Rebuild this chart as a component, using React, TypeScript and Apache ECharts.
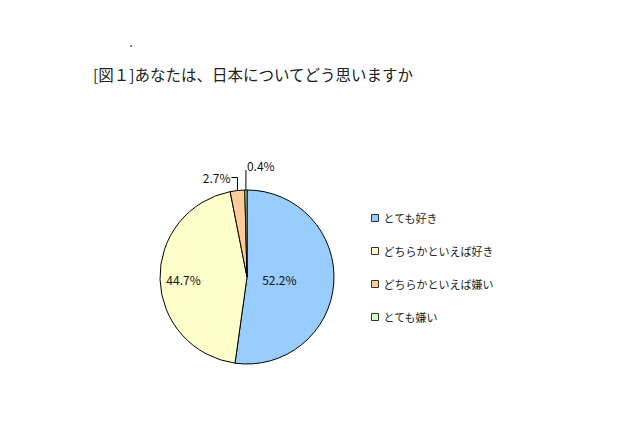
import * as echarts from 'echarts';
import React, { useEffect, useRef } from 'react';

const titleText = '[図１]あなたは、日本についてどう思いますか';
const categories = ['とても好き', 'どちらかといえば好き', 'どちらかといえば嫌い', 'とても嫌い'];
const shares = [52.2, 44.7, 2.7, 0.4];
const sliceColors = ['#99CCFF', '#FFFFCC', '#FFCC99', '#CCFFCC'];

const font = '"Noto Sans CJK JP", "DejaVu Sans", sans-serif';

const App: React.FC = () => {
  const chartRef = useRef<HTMLDivElement>(null);

  useEffect(() => {
    let chart: echarts.ECharts | undefined;
    if (chartRef.current) {
      chart = echarts.init(chartRef.current, undefined, { renderer: 'svg' });

      // place labels the way the original spreadsheet chart does
      const layoutLabel = (params: any) => {
        const i = params.dataIndex;
        if (i === 0) return { dx: -14, dy: -1 };
        if (i === 1) return { dx: -17, dy: 1 };
        const start = params.labelLinePoints ? params.labelLinePoints[0] : [0, 0];
        if (i === 2) {
          const y = start[1] - 13;
          return {
            x: start[0] - 7,
            y,
            align: 'right',
            verticalAlign: 'middle',
            labelLinePoints: [start, [start[0], y], [start[0] - 6, y]],
          };
        }
        return {
          x: start[0] + 1,
          y: start[1] - 25,
          align: 'left',
          verticalAlign: 'middle',
          labelLinePoints: [start, [start[0], start[1] - 20]],
        };
      };

      const option: echarts.EChartsOption = {
        animation: false,
        backgroundColor: '#ffffff',
        textStyle: { fontFamily: font },
        title: {
          text: titleText,
          left: 88,
          top: 61,
          textStyle: { fontSize: 15.5, fontWeight: 'normal', color: '#222', fontFamily: font },
        },
        graphic: [
          { type: 'circle', shape: { cx: 131, cy: 46, r: 0.8 }, style: { fill: '#333' } },
        ],
        legend: {
          orient: 'vertical',
          left: 366,
          top: 206,
          itemGap: 19,
          itemWidth: 7,
          itemHeight: 7,
          icon: 'rect',
          selectedMode: false,
          itemStyle: { borderColor: '#333', borderWidth: 1 },
          textStyle: { fontSize: 11, color: '#222', lineHeight: 14 },
          data: categories,
        },
        series: [
          {
            type: 'pie',
            center: [247, 277],
            radius: 87,
            startAngle: 90,
            clockwise: true,
            avoidLabelOverlap: false,
            itemStyle: { borderColor: '#000', borderWidth: 1 },
            emphasis: { disabled: true },
            labelLine: { lineStyle: { color: '#000', width: 1 } },
            label: { color: '#111', fontSize: 12, fontFamily: font, formatter: '{c}%' },
            labelLayout: layoutLabel,
            data: categories.map((name, i) => ({
              name,
              value: shares[i],
              itemStyle: { color: sliceColors[i] },
              label: { position: i < 2 ? 'inside' : 'outside' },
              labelLine: { show: i >= 2, length: 8, length2: 6 },
            })),
          },
        ],
      };

      chart.setOption(option);
    }
    return () => {
      chart?.dispose();
    };
  }, []);

  return (
    <div
      ref={chartRef}
      style={{ position: 'fixed', left: 0, top: 0, width: '640px', height: '426px' }}
    />
  );
};

export default App;
